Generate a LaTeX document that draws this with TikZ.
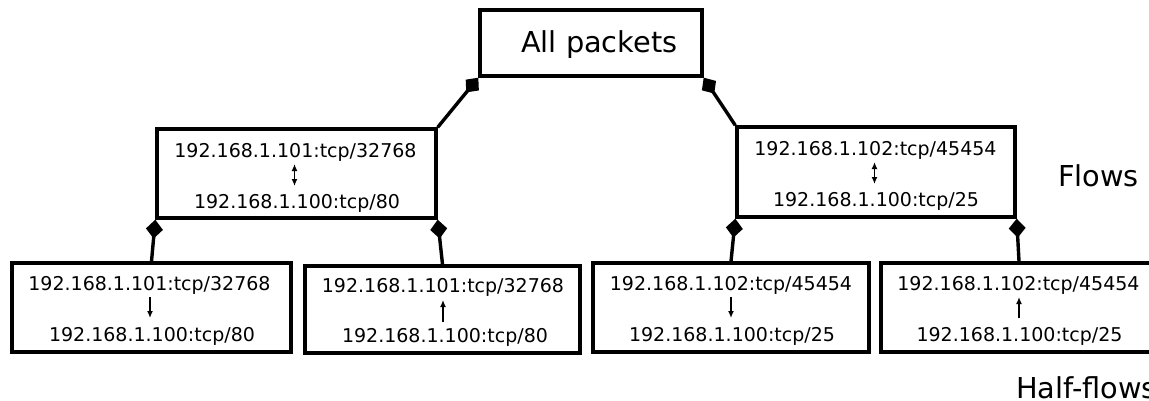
\documentclass[tikz,border=0pt]{standalone}
\usepackage{fontspec}
\setmainfont{DejaVu Sans}
\usetikzlibrary{arrows.meta}
\tikzset{
 box/.style={draw, line width=3.4pt, inner sep=0pt},
 addr/.style={font=\fontsize{19}{22}\selectfont, anchor=base, inner sep=0pt},
 big/.style={font=\fontsize{28.8}{34}\selectfont, anchor=base west, inner sep=0pt},
 link/.style={line width=3.4pt, {Diamond[length=19pt,width=17pt]}-},
 dirarrow/.style={line width=1.4pt, -{Latex[length=7pt,width=6pt]}},
 bidir/.style={line width=1.4pt, {Latex[length=7pt,width=6pt]}-{Latex[length=7pt,width=6pt]}},
}
\begin{document}
\begin{tikzpicture}[x=1pt,y=-1pt]
\useasboundingbox (0,0) rectangle (1149,400);
% boxes
\node[box, minimum width=222pt, minimum height=66pt] (top) at (591,43) {};
\node[box, minimum width=279pt, minimum height=89pt] (fL) at (296.5,173.5) {};
\node[box, minimum width=278pt, minimum height=90pt] (fR) at (876,172) {};
\node[box, minimum width=279pt, minimum height=89pt] (h1) at (151.5,307.5) {};
\node[box, minimum width=275pt, minimum height=87pt] (h2) at (442.5,309.5) {};
\node[box, minimum width=276pt, minimum height=89pt] (h3) at (731,307.5) {};
\node[box, minimum width=276pt, minimum height=89pt] (h4) at (1019,307.5) {};
% titles
\node[big] (tAll) at (521,52) {All packets};
\node[big] (tFlows) at (1058,186) {Flows};
\node[big] (tHalf) at (1016,398) {Half-flows};
% flow texts
\node[addr] (fL1) at (295.5,157) {192.168.1.101:tcp/32768};
\node[addr] (fL2) at (297,208) {192.168.1.100:tcp/80};
\coordinate (fLa) at (294.5,164);
\coordinate (fLb) at (294.5,186);
\draw[bidir] (fLa) -- (fLb);
\node[addr] (fR1) at (875.5,155) {192.168.1.102:tcp/45454};
\node[addr] (fR2) at (876,206) {192.168.1.100:tcp/25};
\coordinate (fRa) at (874.5,162);
\coordinate (fRb) at (874.5,184);
\draw[bidir] (fRa) -- (fRb);
% half-flow texts
\node[addr] (h11) at (149.5,290) {192.168.1.101:tcp/32768};
\node[addr] (h12) at (152,341) {192.168.1.100:tcp/80};
\coordinate (h1a) at (150,297);
\coordinate (h1b) at (150,318);
\draw[dirarrow] (h1a) -- (h1b);
\node[addr] (h21) at (443,292) {192.168.1.101:tcp/32768};
\node[addr] (h22) at (445,342) {192.168.1.100:tcp/80};
\coordinate (h2a) at (443,322);
\coordinate (h2b) at (443,300);
\draw[dirarrow] (h2a) -- (h2b);
\node[addr] (h31) at (731,290) {192.168.1.102:tcp/45454};
\node[addr] (h32) at (732,341) {192.168.1.100:tcp/25};
\coordinate (h3a) at (731,297);
\coordinate (h3b) at (731,318);
\draw[dirarrow] (h3a) -- (h3b);
\node[addr] (h41) at (1018.5,290) {192.168.1.102:tcp/45454};
\node[addr] (h42) at (1019.5,341) {192.168.1.100:tcp/25};
\coordinate (h4a) at (1019,318);
\coordinate (h4b) at (1019,297);
\draw[dirarrow] (h4a) -- (h4b);
% connectors
\draw[link] (top.south west) -- (fL.north east);
\draw[link] (top.south east) -- (fR.north west);
\draw[link] (fL.south west) -- (h1.north);
\draw[link] (fL.south east) -- (h2.north);
\draw[link] (fR.south west) -- (h3.north);
\draw[link] (fR.south east) -- (h4.north);
\end{tikzpicture}
\end{document}
